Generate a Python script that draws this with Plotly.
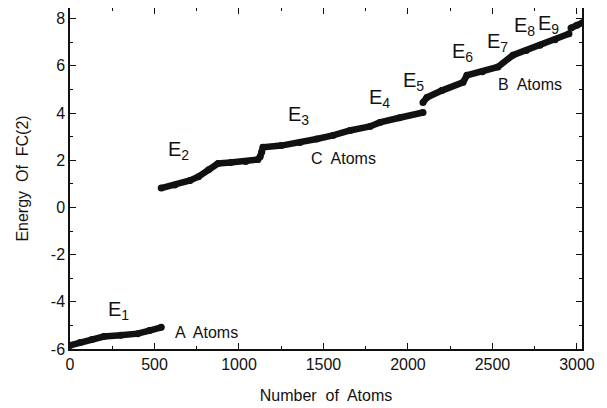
import plotly.graph_objects as go

# A atoms segment
a_x = [0, 60, 130, 200, 300, 400, 470, 540]
a_y = [-5.85, -5.72, -5.6, -5.47, -5.42, -5.35, -5.22, -5.08]
# second segment (E2 .. E3)
c_x = [540, 620, 710, 760, 820, 876, 950, 1040, 1112, 1125, 1135, 1142, 1250, 1361, 1460, 1556, 1657, 1775, 1834, 1950, 2089]
c_y = [0.82, 0.95, 1.14, 1.3, 1.6, 1.86, 1.9, 1.95, 2.03, 2.15, 2.35, 2.55, 2.62, 2.75, 2.9, 3.05, 3.26, 3.43, 3.6, 3.8, 4.02]
# B atoms segment
b_x = [2089, 2112, 2200, 2326, 2349, 2440, 2532, 2621, 2700, 2781, 2870, 2953]
b_y = [4.45, 4.66, 4.95, 5.3, 5.6, 5.75, 5.95, 6.45, 6.65, 6.87, 7.1, 7.36]
e_x = [2965, 3000, 3036]
e_y = [7.6, 7.72, 7.84]

x_all = a_x + [None] + c_x + [None] + b_x + [None] + e_x
y_all = a_y + [None] + c_y + [None] + b_y + [None] + e_y

E_labels = ["E<sub>1</sub>", "E<sub>2</sub>", "E<sub>3</sub>", "E<sub>4</sub>", "E<sub>5</sub>",
            "E<sub>6</sub>", "E<sub>7</sub>", "E<sub>8</sub>", "E<sub>9</sub>"]
E_x = [285, 640, 1350, 1830, 2035, 2320, 2530, 2690, 2830]
E_y = [-4.35, 2.4, 3.9, 4.6, 5.35, 6.55, 7.0, 7.65, 7.75]

group_labels = ["A  Atoms", "C  Atoms", "B  Atoms"]
group_x = [810, 1620, 2720]
group_y = [-5.3, 2.07, 5.2]

x_ticks = [0, 500, 1000, 1500, 2000, 2500, 3000]
x_ticktext = ["0", "500", "1000", "1500", "2000", "2500", "3000"]
y_ticks = [-6, -4, -2, 0, 2, 4, 6, 8]
y_ticktext = ["-6", "-4", "-2", "0", "2", "4", "6", "8"]

FONT = "Liberation Sans, Arial, sans-serif"

fig = go.Figure()
fig.add_trace(go.Scatter(
    x=x_all, y=y_all, mode="lines+markers",
    line=dict(color="#111111", width=6.5),
    marker=dict(color="#111111", size=7),
    showlegend=False, connectgaps=False,
))

for t, xx, yy in zip(E_labels, E_x, E_y):
    fig.add_annotation(x=xx, y=yy, text=t, showarrow=False,
                       font=dict(family=FONT, size=20, color="#111111"))
for t, xx, yy in zip(group_labels, group_x, group_y):
    fig.add_annotation(x=xx, y=yy, text=t, showarrow=False,
                       font=dict(family=FONT, size=16, color="#111111"))

axis_common = dict(
    showline=True, linecolor="#111111", linewidth=1.5, mirror="ticks",
    ticks="inside", ticklen=6, tickwidth=1.3, tickcolor="#111111",
    showgrid=False, zeroline=False, automargin=False,
    tickfont=dict(family=FONT, size=16, color="#111111"),
)

fig.update_xaxes(
    range=[0, 3030], tickmode="array", tickvals=x_ticks, ticktext=x_ticktext,
    minor=dict(ticks="inside", ticklen=3, tickwidth=1.3, tickcolor="#111111", dtick=250, tick0=0, showgrid=False),
    title=dict(text="Number  of  Atoms", font=dict(family=FONT, size=16, color="#111111"), standoff=18),
    **axis_common,
)
fig.update_yaxes(
    range=[-6, 8.45], tickmode="array", tickvals=y_ticks, ticktext=y_ticktext,
    minor=dict(ticks="inside", ticklen=3, tickwidth=1.3, tickcolor="#111111", dtick=1, tick0=0, showgrid=False),
    title=dict(text="Energy  Of  FC(2)", font=dict(family=FONT, size=16, color="#111111"), standoff=18),
    **axis_common,
)

fig.update_layout(
    width=599, height=400,
    margin=dict(l=62, r=25, t=0, b=59),
    paper_bgcolor="white", plot_bgcolor="white",
    font=dict(family=FONT, color="#111111"),
)

fig.write_html("out.html")
